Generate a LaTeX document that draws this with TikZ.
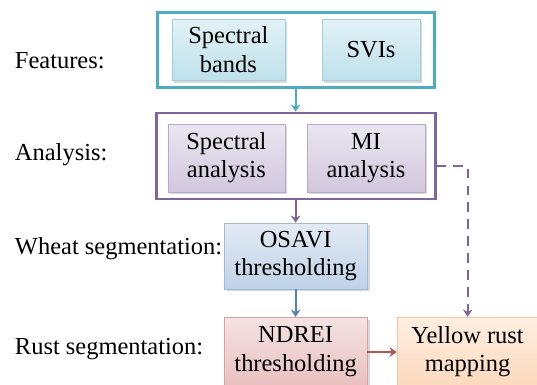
\documentclass[tikz,border=0pt]{standalone}
\usepackage{fontspec}
\setmainfont{LiberationSerif}[Extension=.ttf,UprightFont=*-Regular,BoldFont=*-Bold]
\usetikzlibrary{arrows.meta,positioning,shadows}
\definecolor{aqua}{RGB}{75,172,198}
\definecolor{grape}{RGB}{128,100,162}
\definecolor{cobalt}{RGB}{79,129,189}
\definecolor{rust}{RGB}{192,80,77}
\definecolor{tangerine}{RGB}{247,150,70}
\tikzset{
  >={Stealth[length=1.8mm,width=2.4mm]},
  txt/.style={font=\rmfamily\fontsize{17.4}{20}\selectfont},
  box/.style={draw=#1!55,top color=#1!16,bottom color=#1!36,align=center,txt,
    inner sep=0pt,minimum height=1.6cm,
    drop shadow={opacity=0.3,shadow xshift=0.6mm,shadow yshift=-0.6mm}},
  box/.default=aqua,
  group/.style={draw=#1,line width=2pt,fill=white},
  flow/.style={->,line width=1.4pt,draw=#1},
  dashflow/.style={->,line width=1.4pt,draw=#1,dash pattern=on 7pt off 5pt},
  tag/.style={txt,anchor=base west},
}
\begin{document}
\begin{tikzpicture}
    \useasboundingbox (0,0) rectangle (13.425,9.6);
    % groups
    \node[group=aqua,minimum width=6.925cm,minimum height=1.875cm] (feat) at (7.39,8.36) {};
    \node[group=grape,minimum width=6.975cm,minimum height=2.15cm] (anl) at (7.39,5.7) {};
    \node[box=aqua,minimum width=2.825cm,minimum height=1.525cm] (bands) at (5.71,8.36) {Spectral\\bands};
    \node[box=aqua,minimum width=2.45cm,minimum height=1.525cm] (svi) at (9.275,8.36) {SVIs};
    \node[box=grape,minimum width=2.925cm,minimum height=1.7cm] (spa) at (5.66,5.65) {Spectral\\analysis};
    \node[box=grape,minimum width=2.95cm,minimum height=1.7cm] (mia) at (9.15,5.65) {MI\\analysis};
    \node[box=cobalt,minimum width=3.575cm,minimum height=1.65cm] (osavi) at (7.39,3.2) {OSAVI\\thresholding};
    \node[box=rust,minimum width=3.575cm,minimum height=1.725cm] (ndrei) at (7.39,0.81) {NDREI\\thresholding};
    \node[box=tangerine,minimum width=3.525cm,minimum height=1.75cm] (ymap) at (11.69,0.8) {Yellow rust\\mapping};
    % labels
    \node[tag] (tfeat) at (0.25,7.9) {Features:};
    \node[tag] (tanl) at (0.25,5.6) {Analysis:};
    \node[tag] (twheat) at (0.25,3.23) {Wheat segmentation:};
    \node[tag] (trust) at (0.25,0.73) {Rust segmentation:};
    % connectors
    \draw[flow=aqua] (feat.south) -- (anl.north);
    \draw[flow=grape] (anl.south) -- (osavi.north);
    \draw[flow=cobalt] (osavi.south) -- (ndrei.north);
    \draw[flow=rust] (ndrei.east |- 0,0.8) -- (ymap.west);
    \draw[dashflow=grape] ([yshift=-2.5mm]anl.east) -| (ymap.north);
  \end{tikzpicture}
\end{document}
